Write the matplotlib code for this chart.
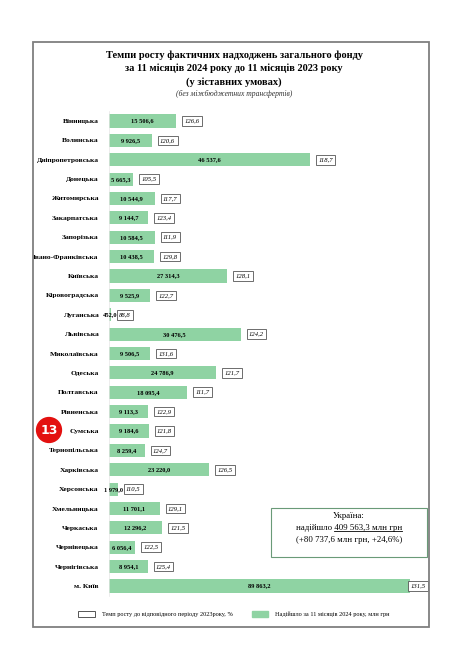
import matplotlib.pyplot as plt
from matplotlib.patches import Patch, Rectangle
from matplotlib.lines import Line2D

regions = ['Вінницька', 'Волинська', 'Дніпропетровська', 'Донецька', 'Житомирська',
           'Закарпатська', 'Запорізька', 'Івано-Франківська', 'Київська', 'Кіровоградська',
           'Луганська', 'Львівська', 'Миколаївська', 'Одеська', 'Полтавська',
           'Рівненська', 'Сумська', 'Тернопільська', 'Харківська', 'Херсонська',
           'Хмельницька', 'Черкаська', 'Чернівецька', 'Чернігівська', 'м. Київ']
received = [15506.6, 9926.5, 46537.6, 5665.3, 10544.9,
            9144.7, 10584.5, 10438.5, 27314.3, 9525.9,
            452.0, 30476.5, 9506.5, 24786.9, 18095.4,
            9113.3, 9184.6, 8259.4, 23220.0, 1979.0,
            11701.1, 12296.2, 6056.4, 8954.1, 89863.2]
growth = [126.6, 120.6, 118.7, 105.5, 117.7,
          123.4, 111.9, 129.8, 128.1, 122.7,
          88.8, 124.2, 131.6, 121.7, 111.7,
          122.9, 121.8, 124.7, 126.5, 110.5,
          129.1, 121.5, 122.5, 125.4, 131.5]

x_max = 69700
green = '#8fd3a3'
W, H = 468, 663


def fmt(v):
    s = f'{v:,.1f}'.replace(',', ' ').replace('.', ',')
    return s


plt.rcParams['font.family'] = ['Liberation Serif', 'DejaVu Serif']

fig = plt.figure(figsize=(W / 100, H / 100), dpi=100)
fig.patches.append(Rectangle((33 / W, 1 - 627 / H), (429 - 33) / W, (627 - 42) / H,
                             transform=fig.transFigure, fill=False,
                             edgecolor='#7f7f7f', linewidth=1.3))

ax = fig.add_axes([109 / W, 1 - 595.7 / H, 301 / W, 484.4 / H])
pos = list(range(len(regions)))
ax.barh(pos, received, height=0.68, color=green)
ax.set_xlim(0, x_max)
ax.set_ylim(len(regions) - 0.5, -0.5)
ax.set_yticks(pos)
ax.set_yticklabels(regions, fontsize=5.4, fontweight='bold')
ax.tick_params(axis='y', length=0, pad=7.5)
ax.set_xticks([])
for s in ['top', 'right', 'bottom']:
    ax.spines[s].set_visible(False)
ax.spines['left'].set_color('#e6e6e6')
ax.spines['left'].set_linewidth(0.5)

for i, (v, g) in enumerate(zip(received, growth)):
    end = min(v, x_max)
    ax.text(end / 2, i, fmt(v), ha='center', va='center', fontsize=4.6,
            fontweight='bold', clip_on=False)
    off = 6 if v < x_max else 0.5
    ax.annotate(f'{g:.1f}'.replace('.', ','), (end, i), xytext=(off, 0),
                textcoords='offset points', ha='left', va='center',
                fontsize=4.8, fontstyle='italic', annotation_clip=False,
                bbox=dict(boxstyle='square,pad=0.35', fc='white', ec='#555555', lw=0.6))

fig.text(0.5, 1 - 55 / H, 'Темпи росту фактичних надходжень загального фонду',
         ha='center', va='center', fontsize=7.5, fontweight='bold')
fig.text(0.5, 1 - 68.5 / H, 'за 11 місяців 2024 року до 11 місяців 2023 року',
         ha='center', va='center', fontsize=7.5, fontweight='bold')
fig.text(0.5, 1 - 82 / H, '(у зіставних умовах)',
         ha='center', va='center', fontsize=7.5, fontweight='bold')
fig.text(0.5, 1 - 93.5 / H, '(без міжбюджетних трансфертів)',
         ha='center', va='center', fontsize=5.5, fontstyle='italic', color='#333333')

# summary box
fig.patches.append(Rectangle((271 / W, 1 - 557 / H), 156 / W, 49 / H,
                             transform=fig.transFigure, fill=False,
                             edgecolor='#6a9a78', linewidth=0.8))
cx = 349 / W
fig.text(cx, 1 - 516 / H, 'Україна:', ha='center', va='center', fontsize=6.3)
line2 = fig.text(cx, 1 - 527.5 / H, 'надійшло 409 563,3 млн грн', ha='center',
                 va='center', fontsize=6.3)
fig.text(cx, 1 - 539.5 / H, '(+80 737,6 млн грн, +24,6%)', ha='center',
         va='center', fontsize=6.3)

fig.text(49 / W, 1 - 430 / H, '13', ha='center', va='center', fontsize=9,
         fontweight='bold', color='white', family='DejaVu Sans',
         bbox=dict(boxstyle='circle,pad=0.3', fc='#e3100f', ec='#e3100f'))

handles = [Patch(facecolor='white', edgecolor='#555555', linewidth=0.7),
           Patch(facecolor=green, edgecolor=green)]
labels = ['Темп росту до відповідного періоду 2023року, %',
          'Надійшло за 11 місяців 2024 року, млн грн']
fig.legend(handles, labels, loc='center', bbox_to_anchor=(0.5, 1 - 614 / H),
           ncol=2, frameon=False, fontsize=4.5, handlelength=2.6,
           handleheight=1.0, handletextpad=1.2, columnspacing=3)

# underline the total value
fig.canvas.draw()
r = fig.canvas.get_renderer()
bb = line2.get_window_extent(r)
tmp = fig.text(0, 0, '409 563,3 млн грн', fontsize=6.3)
w = tmp.get_window_extent(r).width
tmp.remove()
fig.add_artist(Line2D([(bb.x1 - w) / W, bb.x1 / W], [(bb.y0 + 0.5) / H] * 2,
                      transform=fig.transFigure, color='black', linewidth=0.6))

fig.savefig('out.png', dpi=100)
